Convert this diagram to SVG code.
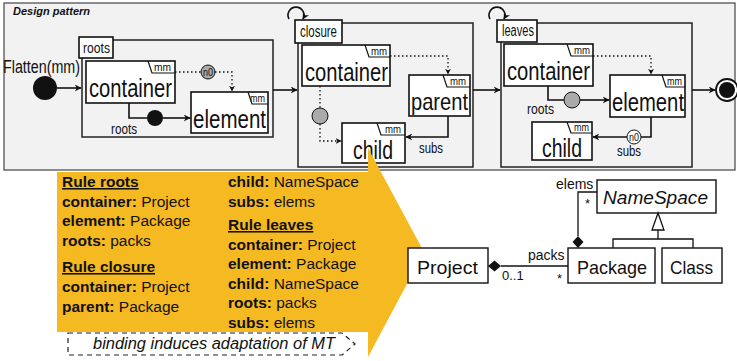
<svg xmlns="http://www.w3.org/2000/svg" width="737" height="361" viewBox="0 0 737 361">
<defs>
<marker id="ah" viewBox="0 0 10 10" refX="9" refY="5" markerWidth="7" markerHeight="7" orient="auto" markerUnits="userSpaceOnUse"><path d="M0,0 L10,5 L0,10 L3,5 z" fill="#111"/></marker>
<marker id="ahs" viewBox="0 0 10 10" refX="9" refY="5" markerWidth="6" markerHeight="6" orient="auto" markerUnits="userSpaceOnUse"><path d="M0,0 L10,5 L0,10 L3,5 z" fill="#111"/></marker>
<style>
.cn{font-family:"Liberation Sans",Arial,sans-serif;fill:#111}
.big{font-size:26px}
.mm{font-size:11px}
.lbl{font-size:16px}
.sm{font-size:15px}
.tiny{font-size:10px}
.node{fill:#fff;stroke:#111;stroke-width:1.6}
.frame{fill:none;stroke:#222;stroke-width:1.5}
.tab{fill:none;stroke:#111;stroke-width:1.2}
.e{fill:none;stroke:#111;stroke-width:1.6}
.d{fill:none;stroke:#111;stroke-width:1.3;stroke-dasharray:1.5 2.5}
.cal{font-family:"Liberation Sans",Arial,sans-serif;font-size:15.5px;fill:#111}
.it{font-style:italic;font-size:16px}
.b{font-weight:bold}
.uml{fill:#fff;stroke:#111;stroke-width:1.4}
.ut{font-family:"Liberation Sans",Arial,sans-serif;font-size:19px;fill:#111}
.us{font-family:"Liberation Sans",Arial,sans-serif;font-size:14px;fill:#111}
</style>
</defs>

<rect x="4" y="3" width="731" height="167" fill="#f2f2f2" stroke="#444" stroke-width="1.2"/>
<text x="13" y="15" font-family="Liberation Sans,Arial,sans-serif" font-size="11" font-weight="bold" font-style="italic" fill="#111">Design pattern</text>

<g id="start">
<circle cx="45" cy="88" r="12" fill="#111"/>
<text class="cn" x="3" y="73" font-size="18" textLength="77" lengthAdjust="spacingAndGlyphs">Flatten(mm)</text>
</g>

<g id="rule-roots">
<rect class="frame" x="82" y="40" width="191" height="97"/>
<rect class="node" x="79" y="37" width="34" height="21"/>
<text class="cn sm" x="83" y="53" textLength="27" lengthAdjust="spacingAndGlyphs">roots</text>
</g>
<g id="roots-container">
<rect class="node" x="86" y="61" width="89" height="42"/>
<path class="tab" d="M148,61 L152,73 H175"/>
<text class="cn mm" x="154" y="71" textLength="17" lengthAdjust="spacingAndGlyphs">mm</text>
<text class="cn big" x="89" y="97" textLength="83" lengthAdjust="spacingAndGlyphs">container</text>
</g>
<g id="roots-element">
<rect class="node" x="191" y="92" width="77" height="41"/>
<path class="tab" d="M248,92 L252,104 H268"/>
<text class="cn mm" x="250" y="102" textLength="15" lengthAdjust="spacingAndGlyphs">mm</text>
<text class="cn big" x="193" y="128" textLength="73" lengthAdjust="spacingAndGlyphs">element</text>
</g>
<g id="roots-n0">
<circle cx="208" cy="72" r="7" fill="#aaa" stroke="#111" stroke-width="1"/>
<text class="cn tiny" x="203" y="76" textLength="10" lengthAdjust="spacingAndGlyphs">n0</text>
</g>
<g id="roots-dot">
<circle cx="155" cy="118" r="8" fill="#111"/>
</g>

<g id="rule-closure">
<rect class="frame" x="298" y="23" width="175" height="144"/>
<rect class="node" x="295" y="20" width="47" height="23"/>
<text class="cn lbl" x="300" y="37" textLength="37" lengthAdjust="spacingAndGlyphs">closure</text>
</g>
<g id="closure-container">
<rect class="node" x="302" y="45" width="88" height="41"/>
<path class="tab" d="M365,45 L369,57 H390"/>
<text class="cn mm" x="371" y="55" textLength="16" lengthAdjust="spacingAndGlyphs">mm</text>
<text class="cn big" x="305" y="81" textLength="83" lengthAdjust="spacingAndGlyphs">container</text>
</g>
<g id="closure-parent">
<rect class="node" x="409" y="75" width="61" height="41"/>
<path class="tab" d="M443,75 L447,87 H470"/>
<text class="cn mm" x="450" y="85" textLength="16" lengthAdjust="spacingAndGlyphs">mm</text>
<text class="cn" x="411" y="110" font-size="24" textLength="57" lengthAdjust="spacingAndGlyphs">parent</text>
</g>
<g id="closure-child">
<rect class="node" x="342" y="123" width="63" height="40"/>
<path class="tab" d="M377,123 L381,135 H405"/>
<text class="cn mm" x="385" y="133" textLength="16" lengthAdjust="spacingAndGlyphs">mm</text>
<text class="cn big" x="353" y="159" textLength="40" lengthAdjust="spacingAndGlyphs">child</text>
</g>
<g id="closure-circle">
<circle cx="320" cy="116" r="8" fill="#aaa" stroke="#111" stroke-width="1"/>
</g>

<g id="rule-leaves">
<rect class="frame" x="501" y="23" width="191" height="144"/>
<rect class="node" x="497" y="20" width="40" height="22"/>
<text class="cn lbl" x="502" y="36" textLength="32" lengthAdjust="spacingAndGlyphs">leaves</text>
</g>
<g id="leaves-container">
<rect class="node" x="504" y="44" width="89" height="42"/>
<path class="tab" d="M567,44 L571,56 H593"/>
<text class="cn mm" x="574" y="54" textLength="16" lengthAdjust="spacingAndGlyphs">mm</text>
<text class="cn big" x="507" y="80" textLength="83" lengthAdjust="spacingAndGlyphs">container</text>
</g>
<g id="leaves-element">
<rect class="node" x="610" y="75" width="75" height="42"/>
<path class="tab" d="M662,75 L666,87 H685"/>
<text class="cn mm" x="667" y="85" textLength="15" lengthAdjust="spacingAndGlyphs">mm</text>
<text class="cn big" x="612" y="111" textLength="72" lengthAdjust="spacingAndGlyphs">element</text>
</g>
<g id="leaves-child">
<rect class="node" x="532" y="122" width="60" height="38"/>
<path class="tab" d="M567,122 L571,133 H592"/>
<text class="cn mm" x="574" y="131" textLength="15" lengthAdjust="spacingAndGlyphs">mm</text>
<text class="cn big" x="542" y="157" textLength="40" lengthAdjust="spacingAndGlyphs">child</text>
</g>
<g id="leaves-circle">
<circle cx="572" cy="100" r="8" fill="#aaa" stroke="#111" stroke-width="1"/>
</g>
<g id="leaves-n0">
<circle cx="634" cy="137" r="7" fill="#fff" stroke="#111" stroke-width="1"/>
<text class="cn tiny" x="629" y="141" textLength="10" lengthAdjust="spacingAndGlyphs">n0</text>
</g>

<g id="end">
<circle cx="727" cy="90" r="11" fill="#fff" stroke="#111" stroke-width="1.8"/>
<circle cx="727" cy="90" r="8" fill="#111"/>
</g>

<g id="connectors">
<path class="e" d="M57,88 H81" marker-end="url(#ah)"/>
<path class="d" d="M175,72 H201"/>
<path class="d" d="M215,72 H232 V91" marker-end="url(#ahs)"/>
<path class="e" d="M129,103 V118 H147"/>
<path class="e" d="M163,118 H190" marker-end="url(#ah)"/>
<text class="cn sm" x="111" y="134" textLength="26" lengthAdjust="spacingAndGlyphs">roots</text>
<path class="e" d="M273,90 H297" marker-end="url(#ah)"/>

<path class="e" d="M289,19 A8,8 0 1 1 303,19" marker-end="url(#ah)"/>
<path class="d" d="M390,56 H448 V74" marker-end="url(#ahs)"/>
<path class="d" d="M320,86 V108"/>
<path class="d" d="M320,124 V141 H341" marker-end="url(#ahs)"/>
<path class="e" d="M448,116 V137 H406" marker-end="url(#ah)"/>
<text class="cn sm" x="419" y="153" textLength="24" lengthAdjust="spacingAndGlyphs">subs</text>
<path class="e" d="M473,90 H500" marker-end="url(#ah)"/>

<path class="e" d="M490,19 A8,8 0 1 1 504,19" marker-end="url(#ah)"/>
<path class="d" d="M593,56 H651 V74" marker-end="url(#ahs)"/>
<path class="e" d="M548,86 V100 H564"/>
<path class="e" d="M580,100 H609" marker-end="url(#ah)"/>
<text class="cn sm" x="527" y="114" textLength="27" lengthAdjust="spacingAndGlyphs">roots</text>
<path class="e" d="M651,117 V137 H641"/>
<path class="e" d="M627,137 H593" marker-end="url(#ah)"/>
<text class="cn sm" x="617" y="156" textLength="24" lengthAdjust="spacingAndGlyphs">subs</text>
<path class="e" d="M692,90 H715" marker-end="url(#ah)"/>
</g>

<g id="binding">
<polygon points="57,172 368,172 368,148 424,252 368,357 368,332 57,332" fill="#F5B921"/>
<text class="cal b" x="62" y="187" text-decoration="underline">Rule roots</text>
<text class="cal" x="62" y="207"><tspan class="b">container:</tspan> Project</text>
<text class="cal" x="62" y="226"><tspan class="b">element:</tspan> Package</text>
<text class="cal" x="62" y="246"><tspan class="b">roots:</tspan> packs</text>
<text class="cal b" x="62" y="272" text-decoration="underline">Rule closure</text>
<text class="cal" x="62" y="292"><tspan class="b">container:</tspan> Project</text>
<text class="cal" x="62" y="312"><tspan class="b">parent:</tspan> Package</text>
<text class="cal" x="228" y="187"><tspan class="b">child:</tspan> NameSpace</text>
<text class="cal" x="228" y="207"><tspan class="b">subs:</tspan> elems</text>
<text class="cal b" x="228" y="230" text-decoration="underline">Rule leaves</text>
<text class="cal" x="228" y="250"><tspan class="b">container:</tspan> Project</text>
<text class="cal" x="228" y="269"><tspan class="b">element:</tspan> Package</text>
<text class="cal" x="228" y="289"><tspan class="b">child:</tspan> NameSpace</text>
<text class="cal" x="228" y="308"><tspan class="b">roots:</tspan> packs</text>
<text class="cal" x="228" y="328"><tspan class="b">subs:</tspan> elems</text>
<path d="M68,333 H342 L355,344 L342,355 H68 Z" fill="#fff" stroke="#222" stroke-width="1.2" stroke-dasharray="5 4"/>
<text class="cal it" x="93" y="349" textLength="242" lengthAdjust="spacingAndGlyphs">binding induces adaptation of MT</text>
</g>

<g id="NameSpace">
<rect class="uml" x="597" y="180" width="119" height="33"/>
<text class="ut" x="603" y="204" font-style="italic" textLength="105" lengthAdjust="spacingAndGlyphs">NameSpace</text>
</g>
<g id="Project">
<rect class="uml" x="408" y="248" width="80" height="35"/>
<text class="ut" x="417" y="274" textLength="61" lengthAdjust="spacingAndGlyphs">Project</text>
</g>
<g id="Package">
<rect class="uml" x="568" y="248" width="87" height="35"/>
<text class="ut" x="577" y="274" textLength="70" lengthAdjust="spacingAndGlyphs">Package</text>
</g>
<g id="Class">
<rect class="uml" x="662" y="248" width="60" height="35"/>
<text class="ut" x="670" y="274" textLength="43" lengthAdjust="spacingAndGlyphs">Class</text>
</g>
<g id="uml-connectors">
<path d="M501,266 H568" stroke="#111" stroke-width="1.3" fill="none"/>
<path d="M488,266 L494.5,260.5 L501,266 L494.5,271.5 Z" fill="#111"/>
<text class="us" x="528" y="260">packs</text>
<text class="us" x="502" y="280" style="font-size:13px">0..1</text>
<text class="us" x="557" y="283" style="font-size:13px">*</text>
<path d="M578,236 V192 H597" stroke="#111" stroke-width="1.3" fill="none"/>
<path d="M578,248 L572.5,242 L578,236 L583.5,242 Z" fill="#111"/>
<text class="us" x="556" y="189">elems</text>
<text class="us" x="585" y="208" style="font-size:13px">*</text>
<path d="M613,248 V239 H693 V248 M658,239 V230" stroke="#111" stroke-width="1.3" fill="none"/>
<path d="M658,213 L664,230 H652 Z" fill="#fff" stroke="#111" stroke-width="1.3"/>
</g>
</svg>
